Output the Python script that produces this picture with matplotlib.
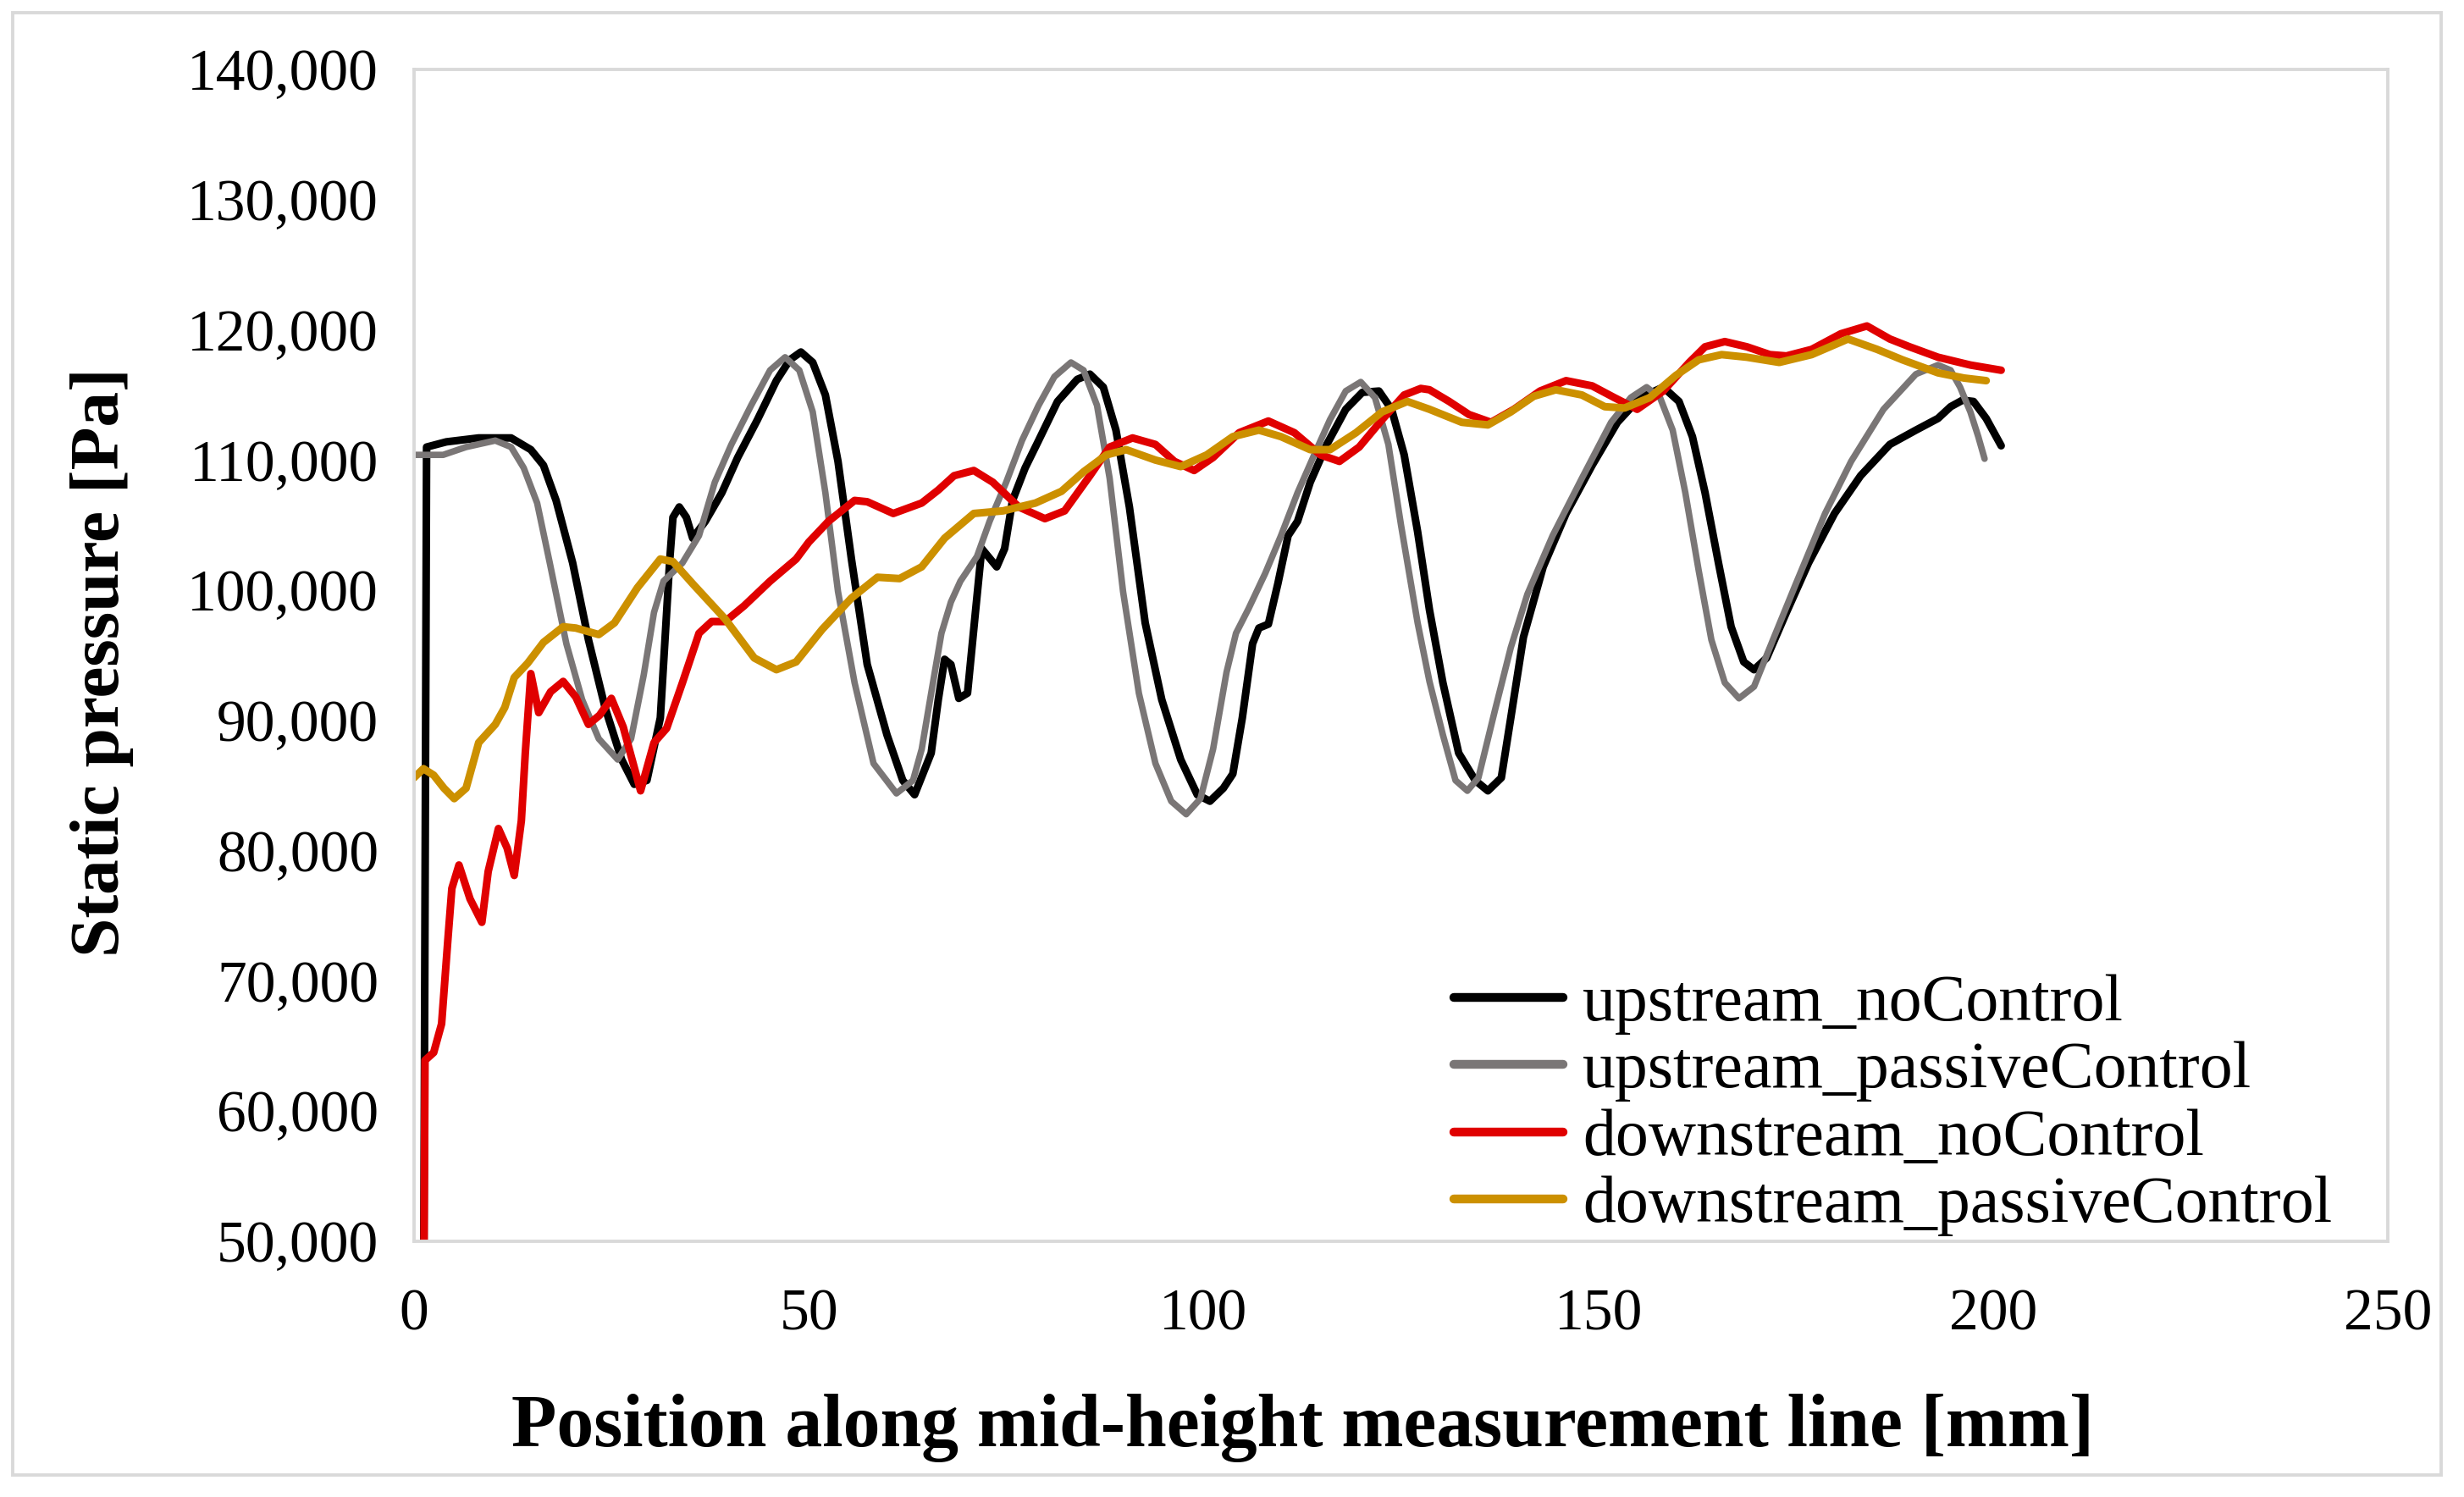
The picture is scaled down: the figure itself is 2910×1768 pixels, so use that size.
import matplotlib
matplotlib.use("Agg")
import matplotlib.pyplot as plt
from matplotlib.patches import Rectangle
from matplotlib.ticker import MultipleLocator, StrMethodFormatter

plt.rcParams['font.family'] = ['Liberation Serif', 'DejaVu Serif']

# upstream_noControl  (x in mm, p in kPa)
up_no_x = [1.2, 1.6, 4.1, 8.2, 12.3, 14.8, 16.4, 18.0, 20.1, 22.1, 24.2, 26.3, 27.9, 29.5, 31.2, 32.4,
           32.8, 33.6, 34.5, 35.3, 36.9, 39.0, 41.0, 43.5, 45.9, 47.6, 49.0, 50.5, 52.1, 53.7, 55.4, 57.4,
           59.9, 61.9, 63.4, 65.5, 66.4, 67.2, 68.0, 69.0, 70.1, 71.1, 71.9, 73.8, 74.8, 75.8, 77.4, 79.1,
           81.5, 84.0, 85.6, 87.3, 88.9, 90.6, 92.6, 94.7, 97.1, 99.2, 100.8, 102.5, 103.7, 104.9, 106.2,
           107.0, 108.2, 109.4, 110.7, 111.9, 113.5, 115.6, 118.0, 120.1, 122.2, 123.8, 125.4, 127.1, 128.6,
           130.3, 132.3, 134.4, 136.0, 137.7, 138.9, 140.5, 143.0, 145.9, 149.2, 152.4, 155.3, 158.2, 160.2,
           161.9, 163.5, 165.2, 166.8, 168.4, 169.7, 171.3, 173.8, 176.6, 179.9, 183.2, 186.9, 190.2, 193.0,
           194.6, 196.1, 197.5, 199.1, 201.0]
up_no_p = [40.0, 111.0, 111.4, 111.7, 111.7, 110.8, 109.6, 106.9, 102.1, 96.2, 91.0, 87.0, 85.1, 85.4, 90.2, 102.4,
           105.6, 106.4, 105.6, 104.0, 105.3, 107.5, 110.2, 113.1, 116.1, 117.7, 118.3, 117.5, 115.0, 109.9, 102.4, 94.3,
           88.9, 85.4, 84.3, 87.5, 91.6, 94.7, 94.3, 91.7, 92.1, 98.3, 103.2, 101.8, 103.2, 106.9, 109.4, 111.5,
           114.5, 116.2, 116.6, 115.6, 112.3, 106.4, 97.5, 91.6, 87.0, 84.3, 83.8, 84.8, 85.9, 90.2, 95.9,
           97.1, 97.4, 100.5, 104.2, 105.3, 108.3, 111.2, 113.9, 115.2, 115.3, 113.9, 110.4, 104.5, 98.5,
           92.9, 87.5, 85.4, 84.6, 85.6, 90.2, 96.4, 101.8, 105.9, 109.6, 112.9, 114.8, 115.6, 114.5,
           111.8, 107.5, 102.1, 97.2, 94.5, 93.9, 94.8, 98.3, 102.1, 105.9, 108.8, 111.2, 112.3, 113.2,
           114.1, 114.6, 114.5, 113.2, 111.1]

# upstream_passiveControl
up_pc_x = [0.0, 3.7, 6.6, 10.3, 12.3, 13.9, 15.6, 17.2, 19.3, 21.3, 23.4, 25.8, 27.5, 29.1, 30.4, 31.6,
           34.0, 36.1, 38.1, 40.2, 42.7, 45.1, 47.0, 48.8, 50.5, 52.1, 53.7, 55.8, 58.2, 61.1, 63.2, 64.3,
           65.5, 66.8, 68.0, 69.2, 71.3, 72.9, 75.0, 77.0, 79.1, 81.1, 83.2, 84.8, 86.5, 88.1, 89.8, 91.8,
           93.9, 95.9, 97.8, 99.6, 101.2, 102.9, 104.1, 105.7, 107.8, 109.8, 111.9, 114.0, 116.0, 118.0,
           119.9, 121.7, 123.4, 125.0, 127.1, 128.6, 130.3, 131.9, 133.4, 134.8, 136.9, 138.9, 141.0, 144.2,
           147.9, 151.6, 154.1, 156.1, 157.8, 159.4, 161.0, 162.7, 164.3, 166.0, 167.8, 169.7, 172.1, 175.0,
           178.7, 182.0, 186.1, 190.2, 193.0, 194.6, 195.8, 197.1, 198.1, 198.9]
up_pc_p = [110.4, 110.4, 111.0, 111.5, 111.0, 109.4, 106.7, 102.1, 95.9, 91.6, 88.6, 87.0, 88.6, 93.5, 98.3, 100.7,
           102.1, 104.2, 108.3, 111.2, 114.2, 116.9, 117.9, 116.9, 113.7, 107.5, 99.9, 92.9, 86.7, 84.4, 85.4, 87.8,
           92.1, 96.7, 99.1, 100.7, 102.6, 105.3, 108.3, 111.5, 114.2, 116.4, 117.5, 116.9, 114.2, 108.6, 99.9, 92.1,
           86.7, 83.8, 82.8, 84.0, 87.8, 93.7, 96.7, 98.6, 101.3, 104.2, 107.5, 110.4, 113.1, 115.3,
           116.0, 114.8, 111.2, 105.0, 97.5, 93.0, 88.9, 85.4, 84.6, 85.6, 90.8, 95.6, 99.7, 104.2,
           108.6, 112.9, 114.8, 115.6, 114.8, 112.3, 107.5, 101.5, 96.2, 92.9, 91.7, 92.6, 96.2, 100.5,
           105.9, 109.9, 113.9, 116.6, 117.3, 116.9, 115.6, 113.7, 111.8, 110.1]

# downstream_noControl
down_no_x = [1.2, 1.4, 2.5, 3.5, 4.3, 4.8, 5.7, 7.1, 8.6, 9.4, 10.7, 11.8, 12.7, 13.6, 14.1, 14.8,
             15.8, 17.3, 18.9, 20.5, 22.1, 23.5, 25.0, 26.5, 28.7, 30.4, 32.0, 34.0, 36.1, 37.7, 39.4, 41.8,
             45.1, 48.4, 50.0, 52.5, 55.8, 57.4, 60.7, 64.3, 66.4, 68.4, 70.9, 73.3, 76.6, 79.9, 82.4, 85.6,
             88.1, 91.0, 93.9, 96.3, 98.8, 101.2, 104.5, 108.2, 111.5, 114.8, 117.2, 119.7, 122.6, 125.4,
             127.5, 128.6, 131.1, 133.6, 136.4, 139.3, 142.6, 145.9, 149.2, 152.0, 154.9, 158.2, 161.5, 163.5,
             166.0, 168.8, 171.7, 173.8, 177.0, 180.7, 184.0, 186.9, 189.4, 193.0, 197.1, 201.0]
down_no_p = [40.0, 63.9, 64.5, 66.7, 73.2, 77.1, 78.9, 76.3, 74.5, 78.4, 81.7, 80.2, 78.1, 82.3, 87.5, 93.6,
             90.6, 92.2, 93.0, 91.8, 89.7, 90.4, 91.7, 89.5, 84.6, 88.3, 89.4, 92.9, 96.7, 97.6, 97.6, 98.8,
             100.7, 102.4, 103.7, 105.3, 106.9, 106.8, 105.9, 106.7, 107.7, 108.8, 109.2, 108.3, 106.4, 105.5, 106.1, 108.8,
             111.0, 111.7, 111.2, 109.9, 109.2, 110.2, 112.1, 113.0, 112.1, 110.4, 109.9, 111.0, 113.1, 115.0,
             115.5, 115.4, 114.5, 113.5, 112.9, 113.9, 115.3, 116.1, 115.7, 114.8, 113.9, 115.3, 117.5, 118.7,
             119.1, 118.7, 118.1, 118.0, 118.5, 119.7, 120.3, 119.3, 118.7, 117.9, 117.3, 116.9]

# downstream_passiveControl
down_pc_x = [0.0, 1.2, 2.5, 3.8, 5.1, 6.6, 8.2, 10.3, 11.5, 12.7, 14.4, 16.4, 18.9, 20.5, 23.4, 25.4,
             28.3, 31.2, 32.8, 35.3, 39.4, 43.1, 45.9, 48.4, 51.7, 55.4, 58.7, 61.5, 64.3, 67.2, 70.9, 74.6,
             78.7, 82.0, 84.8, 87.7, 90.2, 93.9, 97.1, 100.4, 103.7, 107.0, 109.8, 113.5, 116.0, 119.3,
             122.6, 125.8, 128.6, 132.7, 136.0, 138.9, 141.8, 144.6, 147.9, 150.8, 153.3, 156.5, 159.8, 162.7,
             165.6, 168.8, 172.9, 177.0, 181.6, 185.3, 188.5, 193.0, 196.3, 199.1]
down_pc_p = [85.6, 86.3, 85.8, 84.8, 84.0, 84.8, 88.3, 89.7, 91.0, 93.3, 94.4, 96.0, 97.2, 97.1, 96.6, 97.5,
             100.2, 102.4, 102.2, 100.5, 97.8, 94.8, 93.9, 94.5, 97.0, 99.4, 101.0, 100.9, 101.8, 104.0, 105.9, 106.1,
             106.7, 107.6, 109.1, 110.4, 110.8, 110.0, 109.5, 110.4, 111.8, 112.3, 111.8, 110.8, 110.8, 112.1,
             113.7, 114.5, 113.9, 112.9, 112.7, 113.7, 114.9, 115.4, 115.0, 114.1, 114.0, 114.8, 116.5, 117.7,
             118.1, 117.9, 117.5, 118.1, 119.3, 118.5, 117.7, 116.7, 116.3, 116.1]

series = [
    ("upstream_noControl", up_no_x, up_no_p, "#000000", 6.5),
    ("upstream_passiveControl", up_pc_x, up_pc_p, "#7a7676", 5.5),
    ("downstream_noControl", down_no_x, down_no_p, "#e00000", 6.5),
    ("downstream_passiveControl", down_pc_x, down_pc_p, "#cc9000", 6.5),
]

fig = plt.figure(figsize=(29.1, 17.68), dpi=100)
ax = fig.add_axes([0.1680, 0.1708, 0.8012, 0.7828])

for name, xs, ps, col, lw in series:
    ax.plot(xs, [p * 1000 for p in ps], color=col, lw=lw, label=name,
            solid_capstyle='round', solid_joinstyle='round')

ax.set_xlim(0, 250)
ax.set_ylim(50000, 140000)
ax.xaxis.set_major_locator(MultipleLocator(50))
ax.yaxis.set_major_locator(MultipleLocator(10000))
ax.yaxis.set_major_formatter(StrMethodFormatter('{x:,.0f}'))
ax.tick_params(axis='both', length=0, labelsize=50)
ax.tick_params(axis='y', pad=30)
ax.tick_params(axis='x', pad=40)

for sp in ax.spines.values():
    sp.set_color('#d9d9d9')
    sp.set_linewidth(2.8)

ax.set_xlabel("Position along mid-height measurement line [mm]", fontsize=63, fontweight='bold')
ax.xaxis.set_label_coords(0.45, -0.13)
ax.set_ylabel("Static pressure [Pa]", fontsize=60, fontweight='bold')
ax.yaxis.set_label_coords(-0.142, 0.494)

leg = ax.legend(loc='lower right', bbox_to_anchor=(0.995, -0.035), frameon=False, fontsize=56,
                handlelength=1.65, handletextpad=0.3, labelspacing=0.1, borderpad=0.2)
for line in leg.get_lines():
    line.set_linewidth(7.5)

fig.patches.append(Rectangle((0.0052, 0.0147), 0.9855, 0.9768, transform=fig.transFigure,
                             fill=False, ec='#d9d9d9', lw=2.8))

fig.savefig('out.png', dpi=100, facecolor='white')
